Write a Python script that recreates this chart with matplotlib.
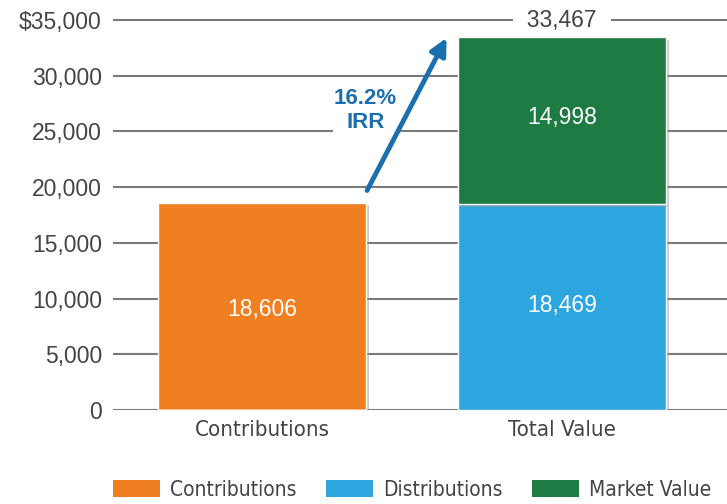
import matplotlib
matplotlib.use("Agg")
import matplotlib.pyplot as plt
import matplotlib.patheffects as pe
from matplotlib.patches import Patch
from matplotlib import font_manager as fm

categories = ["Contributions", "Total Value"]
contributions = [18606, 0]
distributions = [0, 18469]
market_value = [0, 14998]
total_value = 33467
irr_label = "16.2%\nIRR"
yticks = [0, 5000, 10000, 15000, 20000, 25000, 30000, 35000]
ytick_labels = ["0", "5,000", "10,000", "15,000", "20,000", "25,000", "30,000", "$35,000"]
legend_labels = ["Contributions", "Distributions", "Market Value"]

c_orange = "#F07F22"
c_blue = "#2DA5DE"
c_green = "#1E7B43"
c_arrow = "#1C6FAE"
c_grid = "#7a7a7a"
c_text = "#444444"

narrow_fp = fm.FontProperties(family="DejaVu Sans", stretch="condensed")
sans = ["Liberation Sans", "DejaVu Sans"]

fig = plt.figure(figsize=(7.27, 5.04), dpi=100)
ppu = 390 / 35000
top_px = 410 - 36000 * ppu
ax = fig.add_axes([113/727, 1 - 410/504, 614/727, (410 - top_px)/504])
ax.set_xlim(-0.497, 1.55)
ax.set_ylim(0, 36000)
for s in ax.spines.values():
    s.set_visible(False)
ax.set_yticks(yticks)
ax.set_yticklabels(ytick_labels, family=sans, fontsize=16.5, color=c_text)
ax.tick_params(axis="y", length=0, pad=8)
ax.set_xticks([0, 1])
ax.set_xticklabels(categories, fontproperties=narrow_fp, fontsize=16, color=c_text)
ax.tick_params(axis="x", length=0, pad=7)
ax.yaxis.grid(True, color=c_grid, linewidth=1.5)
ax.set_axisbelow(True)

x = [0, 1]
w = 0.693
shadow = [pe.SimplePatchShadow(offset=(2, -2), shadow_rgbFace="#999999", alpha=0.5), pe.Normal()]
b1 = ax.bar(x, contributions, width=w, color=c_orange, edgecolor="white", linewidth=1, zorder=3)
b2 = ax.bar(x, distributions, width=w, color=c_blue, edgecolor="white", linewidth=1, zorder=3)
b3 = ax.bar(x, market_value, bottom=distributions, width=w, color=c_green, edgecolor="white", linewidth=1, zorder=3)
for bars in (b1, b2, b3):
    for b in bars:
        if b.get_height() > 0:
            b.set_path_effects(shadow)

ax.text(0, 9000, f"{contributions[0]:,}", ha="center", va="center", color="white", fontsize=16.5, family=sans, zorder=5)
ax.text(1, 9400, f"{distributions[1]:,}", ha="center", va="center", color="white", fontsize=16.5, family=sans, zorder=5)
ax.text(1, distributions[1] + 7800, f"{market_value[1]:,}", ha="center", va="center", color="white", fontsize=16.5, family=sans, zorder=5)

ax.text(1, 35000, f"  {total_value:,}  ", ha="center", va="center", color=c_text, fontsize=16.5, family=sans, zorder=5,
        bbox=dict(facecolor="white", edgecolor="none", pad=1))

ax.annotate("", xy=(0.615, 33400), xytext=(0.35, 19700),
            arrowprops=dict(arrowstyle="-|>,head_length=1.0,head_width=0.5", color=c_arrow, lw=3.5, shrinkA=0, shrinkB=0),
            zorder=6)
ax.text(0.345, 26900, irr_label, ha="center", va="center", color=c_arrow, fontsize=16, fontweight="bold",
        family=sans, linespacing=1.2, zorder=5, bbox=dict(facecolor="white", edgecolor="none", pad=1))

handles = [Patch(facecolor=c) for c in (c_orange, c_blue, c_green)]
leg_fp = fm.FontProperties(family="DejaVu Sans", stretch="condensed", size=15)
fig.legend(handles, legend_labels, loc="center left", bbox_to_anchor=(109/727, 1 - 490/504), ncol=3, frameon=False,
           prop=leg_fp, labelcolor=c_text, handlelength=2.26, handleheight=0.9,
           columnspacing=1.4, handletextpad=0.48, borderpad=0.2, borderaxespad=0)

fig.savefig("out.png", dpi=100)
